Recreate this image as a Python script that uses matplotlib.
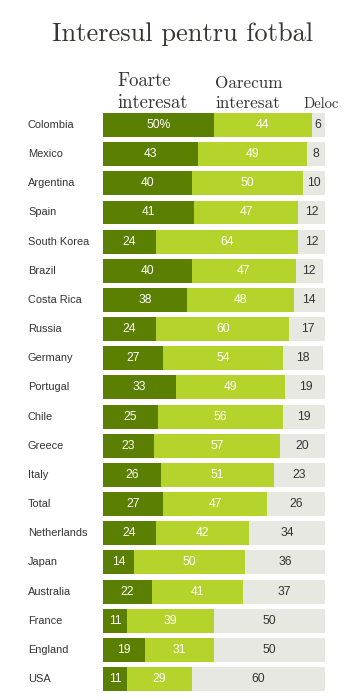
import matplotlib.pyplot as plt
from matplotlib.transforms import blended_transform_factory

# Date
tari = ['Colombia', 'Mexico', 'Argentina', 'Spain', 'South Korea', 'Brazil',
        'Costa Rica', 'Russia', 'Germany', 'Portugal', 'Chile', 'Greece',
        'Italy', 'Total', 'Netherlands', 'Japan', 'Australia', 'France',
        'England', 'USA']
foarte = [50, 43, 40, 41, 24, 40, 38, 24, 27, 33, 25, 23, 26, 27, 24, 14, 22, 11, 19, 11]
oarecum = [44, 49, 50, 47, 64, 47, 48, 60, 54, 49, 56, 57, 51, 47, 42, 50, 41, 39, 31, 29]
deloc = [6, 8, 10, 12, 12, 12, 14, 17, 18, 19, 19, 20, 23, 26, 34, 36, 37, 50, 50, 60]

c_foarte = '#5b7f00'
c_oarecum = '#b5d42b'
c_deloc = '#e8e8e3'

fig = plt.figure(figsize=(3.61, 7.0), dpi=100)
ax = fig.add_axes([0.285, 0.0091, 0.615, 0.8332])

y = list(range(len(tari)))
h = 0.82
st2 = [a + b for a, b in zip(foarte, oarecum)]
ax.barh(y, foarte, height=h, color=c_foarte)
ax.barh(y, oarecum, left=foarte, height=h, color=c_oarecum)
ax.barh(y, deloc, left=st2, height=h, color=c_deloc)

# Etichete cu valori
for i in y:
    t1 = '%d%%' % foarte[i] if i == 0 else str(foarte[i])
    ax.text(foarte[i] / 2, i, t1, ha='center', va='center', color='white',
            fontsize=8.7, family='Liberation Sans')
    ax.text(foarte[i] + oarecum[i] / 2, i, str(oarecum[i]), ha='center', va='center',
            color='white', fontsize=8.7, family='Liberation Sans')
    ax.text(st2[i] + deloc[i] / 2, i, str(deloc[i]), ha='center', va='center',
            color='#333333', fontsize=8.7, family='Liberation Sans')

# Numele tarilor
tr = blended_transform_factory(fig.transFigure, ax.transData)
for i, t in enumerate(tari):
    ax.text(28 / 361, i, t, transform=tr, fontsize=7.9,
            family='Liberation Sans', color='#333333', va='center', ha='left')

ax.set_xlim(0, 100)
ax.set_ylim(len(tari) - 0.5, -0.5)
ax.axis('off')

# Titlu si antete
fig.text(0.505, 1 - 41 / 700, 'Interesul pentru fotbal', ha='center', va='baseline',
         fontsize=19, family='cmr10', color='#3b3232')
fig.text(117 / 361, 1 - 86 / 700, 'Foarte', fontsize=13.5, family='cmr10', color='#333333')
fig.text(117 / 361, 1 - 108 / 700, 'interesat', fontsize=13.5, family='cmr10', color='#333333')
fig.text(215 / 361, 1 - 88 / 700, 'Oarecum', fontsize=12.3, family='cmr10', color='#333333')
fig.text(215 / 361, 1 - 108 / 700, 'interesat', fontsize=12.3, family='cmr10', color='#333333')
fig.text(303 / 361, 1 - 108 / 700, 'Deloc', fontsize=10.5, family='cmr10', color='#333333')

plt.savefig('out.png', dpi=100)
